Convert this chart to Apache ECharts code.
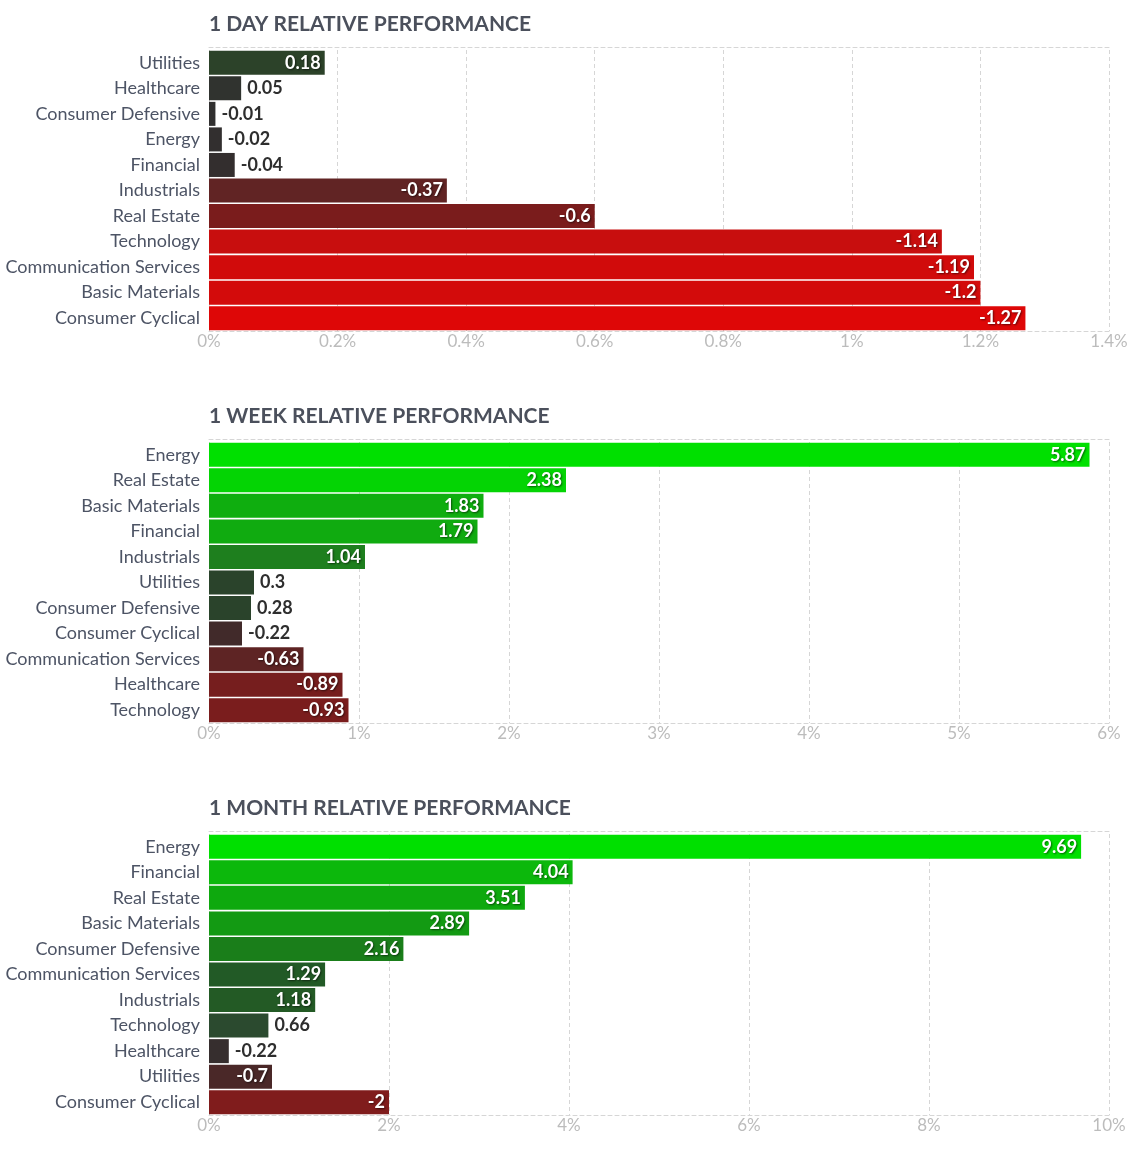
<!DOCTYPE html>
<html>
<head>
<meta charset="utf-8">
<script src="https://cdn.jsdelivr.net/npm/echarts@6/dist/echarts.min.js"></script>
<style>
html,body{margin:0;padding:0;background:#fff;}
#chart{width:1137px;height:1149px;}
</style>
</head>
<body>
<div id="chart"></div>
<script>
// ---- DATA ----
const titles = ['1 DAY RELATIVE PERFORMANCE', '1 WEEK RELATIVE PERFORMANCE', '1 MONTH RELATIVE PERFORMANCE'];

const dayCategories = ['Utilities','Healthcare','Consumer Defensive','Energy','Financial','Industrials','Real Estate','Technology','Communication Services','Basic Materials','Consumer Cyclical'];
const dayValues = [0.18, 0.05, -0.01, -0.02, -0.04, -0.37, -0.6, -1.14, -1.19, -1.2, -1.27];

const weekCategories = ['Energy','Real Estate','Basic Materials','Financial','Industrials','Utilities','Consumer Defensive','Consumer Cyclical','Communication Services','Healthcare','Technology'];
const weekValues = [5.87, 2.38, 1.83, 1.79, 1.04, 0.3, 0.28, -0.22, -0.63, -0.89, -0.93];

const monthCategories = ['Energy','Financial','Real Estate','Basic Materials','Consumer Defensive','Communication Services','Industrials','Technology','Healthcare','Utilities','Consumer Cyclical'];
const monthValues = [9.69, 4.04, 3.51, 2.89, 2.16, 1.29, 1.18, 0.66, -0.22, -0.7, -2];

const dayTicks = [0, 0.2, 0.4, 0.6, 0.8, 1, 1.2, 1.4];
const weekTicks = [0, 1, 2, 3, 4, 5, 6];
const monthTicks = [0, 2, 4, 6, 8, 10];

// ---- STYLE ----
const dayColors = ['#2c4229','#30332f','#302f2f','#322f2f','#332e2e','#612424','#7a1c1c','#c80e0e','#d10b0b','#d30b0b','#de0707'];
const weekColors = ['#00e000','#04d404','#0fae0f','#10ab10','#1e7f1e','#2a432b','#2a432b','#412a2a','#5e2424','#761e1e','#7a1d1d'];
const monthColors = ['#00e000','#0cb80c','#0ea90e','#139a13','#1a7e1a','#225a26','#235a25','#2b4a2f','#362e2e','#4a2828','#801c1c'];

const panels = [
  {cats: dayCategories, vals: dayValues, ticks: dayTicks, colors: dayColors},
  {cats: weekCategories, vals: weekValues, ticks: weekTicks, colors: weekColors},
  {cats: monthCategories, vals: monthValues, ticks: monthTicks, colors: monthColors}
];

const FONT = 'Lato, "Noto Sans", sans-serif';
const GRID_LEFT = 209, GRID_RIGHT = 28, GRID_H = 281, PANEL_STEP = 392, GRID_TOP0 = 50;
const gridWidth = 1137 - GRID_LEFT - GRID_RIGHT;

const measureCanvas = document.createElement('canvas').getContext('2d');
measureCanvas.font = 'bold 18px ' + FONT;
function textW(s){ return measureCanvas.measureText(s).width; }

const dash = {color: '#d6d6d6', type: [4, 3], width: 1};

const option = {
  animation: false,
  backgroundColor: '#fff',
  title: [], grid: [], xAxis: [], yAxis: [], series: []
};

panels.forEach((p, i) => {
  const top = GRID_TOP0 + i * PANEL_STEP;
  const min = p.ticks[0], max = p.ticks[p.ticks.length - 1];
  const interval = p.ticks[1] - p.ticks[0];
  option.title.push({
    text: titles[i], left: GRID_LEFT, top: top - 36, padding: 0,
    textStyle: {fontFamily: FONT, fontSize: 21, fontWeight: 'bold', color: '#4b505c'}
  });
  option.grid.push({left: GRID_LEFT, right: GRID_RIGHT, top: top, height: GRID_H, containLabel: false});
  option.xAxis.push({
    type: 'value', gridIndex: i, min: min, max: max, interval: interval, position: 'bottom',
    axisLine: {show: true, lineStyle: dash},
    axisTick: {show: false},
    splitLine: {show: true, lineStyle: dash},
    axisLabel: {
      margin: 2, color: '#bcbcbc', fontFamily: FONT, fontSize: 17,
      formatter: v => parseFloat(v.toFixed(2)) + '%'
    }
  });
  option.xAxis.push({
    type: 'value', gridIndex: i, min: min, max: max, interval: interval, position: 'top', offset: 3,
    axisLine: {show: true, lineStyle: dash},
    axisTick: {show: false}, splitLine: {show: false}, axisLabel: {show: false}
  });
  option.yAxis.push({
    type: 'category', gridIndex: i, data: p.cats, inverse: true,
    axisLine: {show: false}, axisTick: {show: false}, splitLine: {show: false},
    axisLabel: {margin: 9, color: '#4d5465', fontFamily: FONT, fontSize: 18}
  });
  option.series.push({
    type: 'bar', xAxisIndex: i * 2, yAxisIndex: i,
    barCategoryGap: '6%',
    data: p.vals.map((v, k) => {
      const txt = String(v);
      const barPx = Math.abs(v) / (max - min) * gridWidth;
      const inside = barPx > textW(txt) + 28;
      return {
        value: Math.abs(v),
        itemStyle: {color: p.colors[k]},
        label: inside ? {
          position: 'insideRight', distance: 4, color: '#fff',
          textShadowColor: 'rgba(0,0,0,0.55)', textShadowBlur: 2, textShadowOffsetX: 1, textShadowOffsetY: 1
        } : {
          position: 'right', distance: 6, color: '#2e2e2e'
        }
      };
    }),
    label: {
      show: true, fontFamily: FONT, fontSize: 18, fontWeight: 'bold',
      formatter: params => String(p.vals[params.dataIndex])
    }
  });
});

const chart = echarts.init(document.getElementById('chart'));
chart.setOption(option);
</script>
</body>
</html>
